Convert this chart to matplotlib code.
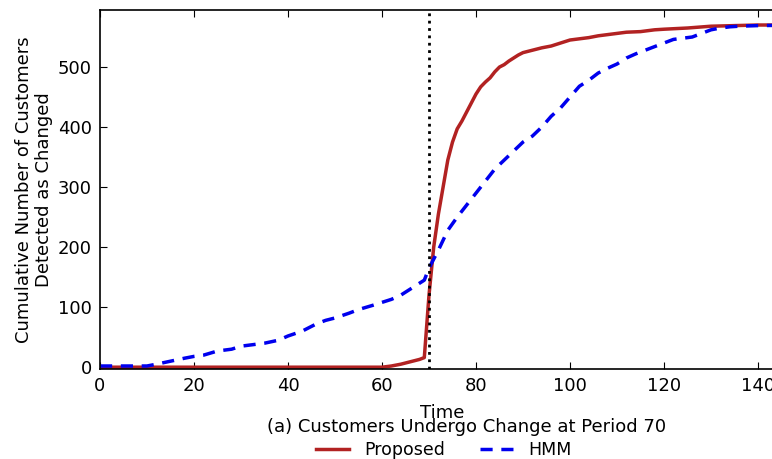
import matplotlib
matplotlib.use("Agg")
import matplotlib.pyplot as plt

# Proposed method (solid red)
prop_t = [0, 10, 20, 30, 40, 50, 60, 62, 64, 66, 68, 69, 70, 71, 72, 73, 74, 75, 76, 77,
          78, 79, 80, 81, 82, 83, 84, 85, 86, 87, 88, 89, 90, 92, 94, 96, 98, 100, 102,
          104, 106, 108, 110, 112, 115, 118, 120, 125, 130, 135, 140, 145, 150]
prop_v = [0, 0, 0, 0, 0, 0, 0, 2, 5, 9, 13, 16, 120, 200, 255, 300, 345, 375, 397, 410,
          425, 440, 455, 467, 475, 482, 492, 500, 504, 510, 515, 520, 524, 528, 532, 535,
          540, 545, 547, 549, 552, 554, 556, 558, 559, 562, 563, 565, 568, 569, 570, 570, 570]

# HMM baseline (dashed blue)
hmm_t = [0, 5, 10, 12, 15, 18, 20, 22, 25, 28, 30, 33, 35, 38, 40, 43, 46, 48, 50, 53,
         55, 58, 60, 62, 64, 66, 68, 69, 70, 72, 74, 76, 78, 80, 82, 84, 86, 88, 90, 92,
         94, 96, 98, 100, 102, 104, 106, 108, 110, 112, 114, 116, 118, 120, 122, 124,
         126, 128, 130, 132, 134, 136, 140, 150]
hmm_v = [2, 2, 2, 5, 10, 15, 18, 20, 27, 30, 35, 38, 40, 45, 52, 60, 72, 78, 82, 90,
         96, 103, 108, 113, 120, 130, 140, 145, 165, 195, 228, 250, 270, 290, 310, 330,
         345, 360, 375, 385, 400, 418, 432, 450, 468, 478, 490, 498, 505, 515, 522, 528,
         534, 540, 546, 548, 550, 556, 562, 565, 567, 568, 569, 570]

change_period = 70

plt.rcParams['font.family'] = 'DejaVu Sans'
plt.rcParams['font.size'] = 13

fig = plt.figure(figsize=(7.72, 4.59), dpi=100)
W, H = 772.0, 459.0
# axes run past the right edge, as in the cropped original
ax = fig.add_axes([100 / W, 90 / H, 705 / W, 359 / H])

ax.plot(prop_t, prop_v, color='#b22222', lw=2.5, label='Proposed')
ax.plot(hmm_t, hmm_v, color='#0000ee', lw=2.5, ls='--', dashes=(3.5, 2.5), label='HMM')
ax.axvline(change_period, color='black', ls=':', lw=2)

ax.set_xlim(0, 150)
ax.set_ylim(-3, 595)
ax.set_xticks(range(0, 160, 20))
ax.set_yticks(range(0, 600, 100))
ax.tick_params(direction='in', top=True, right=True, length=5, labelsize=13, pad=6)
for s in ax.spines.values():
    s.set_linewidth(1.2)

ax.set_ylabel('Cumulative Number of Customers\nDetected as Changed', fontsize=13, labelpad=3)
fig.text(442 / W, 1 - 413 / H, 'Time', ha='center', va='center', fontsize=13)
fig.text(467 / W, 1 - 427 / H, '(a) Customers Undergo Change at Period 70',
         ha='center', va='center', fontsize=13)

handles, labels = ax.get_legend_handles_labels()
fig.legend(handles, labels, ncol=2, frameon=False, loc='center',
           bbox_to_anchor=(444 / W, 1 - 450 / H), fontsize=12.5,
           handlelength=1.9, columnspacing=2.0, borderpad=0, handletextpad=0.9)

fig.savefig('out.png', dpi=100)
